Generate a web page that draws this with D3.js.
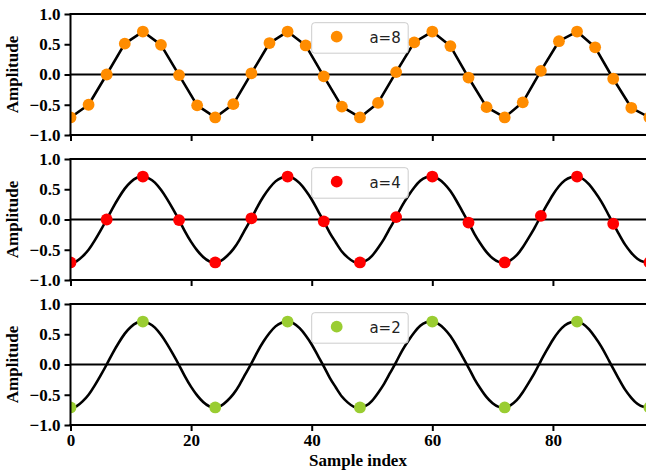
<!DOCTYPE html>
<html>
<head>
<meta charset="utf-8">
<script src="https://cdn.jsdelivr.net/npm/d3@7"></script>
<style>
    body { margin: 0; background: #fff; }
    .tick-label { font-family: "Liberation Serif", "Times New Roman", serif; font-weight: bold; font-size: 17px; fill: #000; }
    .axis-title { font-family: "Liberation Serif", "Times New Roman", serif; font-weight: bold; font-size: 17px; fill: #000; }
    .legend-text { font-family: "DejaVu Sans", sans-serif; font-size: 15px; fill: #222; }
</style>
</head>
<body>
<div class="chart"></div>
<script>

//////////
// DATA //
//////////

// signal value at each sample index 0..96
var signal = [
    -0.71, -0.69, -0.61, -0.50, -0.35, -0.18, 0.00, 0.19, 0.36, 0.51, 0.62, 0.69,
    0.71, 0.68, 0.61, 0.49, 0.34, 0.17, -0.01, -0.20, -0.37, -0.51, -0.62, -0.69,
    -0.71, -0.68, -0.60, -0.49, -0.34, -0.16, 0.02, 0.21, 0.38, 0.52, 0.63, 0.69,
    0.71, 0.68, 0.60, 0.48, 0.33, 0.15, -0.03, -0.22, -0.38, -0.53, -0.63, -0.70,
    -0.71, -0.68, -0.60, -0.47, -0.32, -0.14, 0.04, 0.23, 0.39, 0.53, 0.64, 0.70,
    0.71, 0.67, 0.59, 0.47, 0.31, 0.13, -0.05, -0.24, -0.40, -0.54, -0.64, -0.70,
    -0.71, -0.67, -0.59, -0.46, -0.30, -0.13, 0.06, 0.24, 0.41, 0.55, 0.65, 0.70,
    0.71, 0.67, 0.58, 0.45, 0.30, 0.12, -0.07, -0.25, -0.42, -0.55, -0.65, -0.70,
    -0.71
];

var factors = [8, 4, 2];            // legend values a
var sampleSteps = [3, 6, 12];       // a dot every n samples
var dotColors = ['#ff8c00', '#ff0000', '#9acd32'];

var yTicks = [-1, -0.5, 0, 0.5, 1];
var xTicks = [0, 20, 40, 60, 80];

//////////////////////
// INITIAL SETTINGS //
//////////////////////

var w = 646,
    h = 474,
    left = 70.5,
    xEnd = 649.4,
    panelTops = [14, 159, 304],
    panelH = 121;

var svg = d3.select('.chart')
    .append('svg')
    .attr('width', w)
    .attr('height', h);

var xScale = d3.scaleLinear()
    .domain([0, 96])
    .range([left, xEnd]);

var fmt = function(d) { return d3.format('.1f')(d).replace('-', '\u2212'); };

////////////
// PANELS //
////////////

factors.forEach(function(a, p) {

    var top = panelTops[p],
        bottom = top + panelH;

    var yScale = d3.scaleLinear()
        .domain([-1, 1])
        .range([bottom, top]);

    var g = svg.append('g');

    svg.append('clipPath')
        .attr('id', 'clip' + p)
        .append('rect')
        .attr('x', left)
        .attr('y', top - 10)
        .attr('width', w - left)
        .attr('height', panelH + 20);

    var plot = g.append('g').attr('clip-path', 'url(#clip' + p + ')');

    // zero line
    plot.append('line')
        .attr('x1', left).attr('x2', w)
        .attr('y1', yScale(0)).attr('y2', yScale(0))
        .attr('stroke', '#000')
        .attr('stroke-width', 2);

    var samples = signal
        .map(function(v, i) { return { i: i, v: v }; })
        .filter(function(d) { return d.i % sampleSteps[p] === 0; });

    // top panel line joins the samples, others follow the full signal
    var lineData = p === 0 ? samples : signal.map(function(v, i) { return { i: i, v: v }; });

    var line = d3.line()
        .x(function(d) { return xScale(d.i); })
        .y(function(d) { return yScale(d.v); })
        .curve(p === 0 ? d3.curveLinear : d3.curveNatural);

    plot.append('path')
        .datum(lineData)
        .attr('d', line)
        .attr('fill', 'none')
        .attr('stroke', '#000')
        .attr('stroke-width', 2.6)
        .attr('stroke-linejoin', 'round');

    plot.selectAll('.dot')
        .data(samples)
        .enter()
        .append('circle')
        .attr('class', 'dot')
        .attr('cx', function(d) { return xScale(d.i); })
        .attr('cy', function(d) { return yScale(d.v); })
        .attr('r', 5.9)
        .attr('fill', dotColors[p]);

    //////////
    // AXES //
    //////////

    var yAxis = d3.axisLeft(yScale)
        .tickValues(yTicks)
        .tickSize(6)
        .tickPadding(4)
        .tickFormat(fmt);

    var yg = g.append('g')
        .attr('transform', 'translate(' + left + ',0)')
        .call(yAxis);

    yg.select('.domain').remove();
    yg.selectAll('line').attr('stroke', '#000').attr('stroke-width', 2);
    yg.selectAll('text').attr('class', 'tick-label').attr('font-family', null).attr('font-size', null);

    var xAxis = d3.axisBottom(xScale)
        .tickValues(xTicks)
        .tickSize(6)
        .tickPadding(3)
        .tickFormat(p === 2 ? d3.format('d') : '');

    var xg = g.append('g')
        .attr('transform', 'translate(0,' + bottom + ')')
        .call(xAxis);

    xg.select('.domain').remove();
    xg.selectAll('line').attr('stroke', '#000').attr('stroke-width', 2);
    xg.selectAll('text').attr('class', 'tick-label').attr('font-family', null).attr('font-size', null);

    // spines
    [top, bottom].forEach(function(y) {
        g.append('line')
            .attr('x1', left - 1).attr('x2', w)
            .attr('y1', y).attr('y2', y)
            .attr('stroke', '#000')
            .attr('stroke-width', 2);
    });

    g.append('line')
        .attr('x1', left).attr('x2', left)
        .attr('y1', top).attr('y2', bottom)
        .attr('stroke', '#000')
        .attr('stroke-width', 2);

    g.append('text')
        .attr('class', 'axis-title')
        .attr('transform', 'translate(18,' + (top + panelH / 2) + ') rotate(-90)')
        .attr('text-anchor', 'middle')
        .text('Amplitude');

    ////////////
    // LEGEND //
    ////////////

    var lg = g.append('g')
        .attr('transform', 'translate(311.7,' + (top + 8.7) + ')');

    lg.append('rect')
        .attr('width', 96.5)
        .attr('height', 30.5)
        .attr('rx', 3)
        .attr('fill', '#fff')
        .attr('fill-opacity', 0.8)
        .attr('stroke', '#cccccc')
        .attr('stroke-width', 1);

    lg.append('circle')
        .attr('cx', 25)
        .attr('cy', 14)
        .attr('r', 5.9)
        .attr('fill', dotColors[p]);

    lg.append('text')
        .attr('class', 'legend-text')
        .attr('x', 89)
        .attr('y', 20.5)
        .attr('text-anchor', 'end')
        .text('a=' + a);
});

svg.append('text')
    .attr('class', 'axis-title')
    .attr('x', 358)
    .attr('y', 466)
    .attr('text-anchor', 'middle')
    .text('Sample index');

</script>
</body>
</html>
